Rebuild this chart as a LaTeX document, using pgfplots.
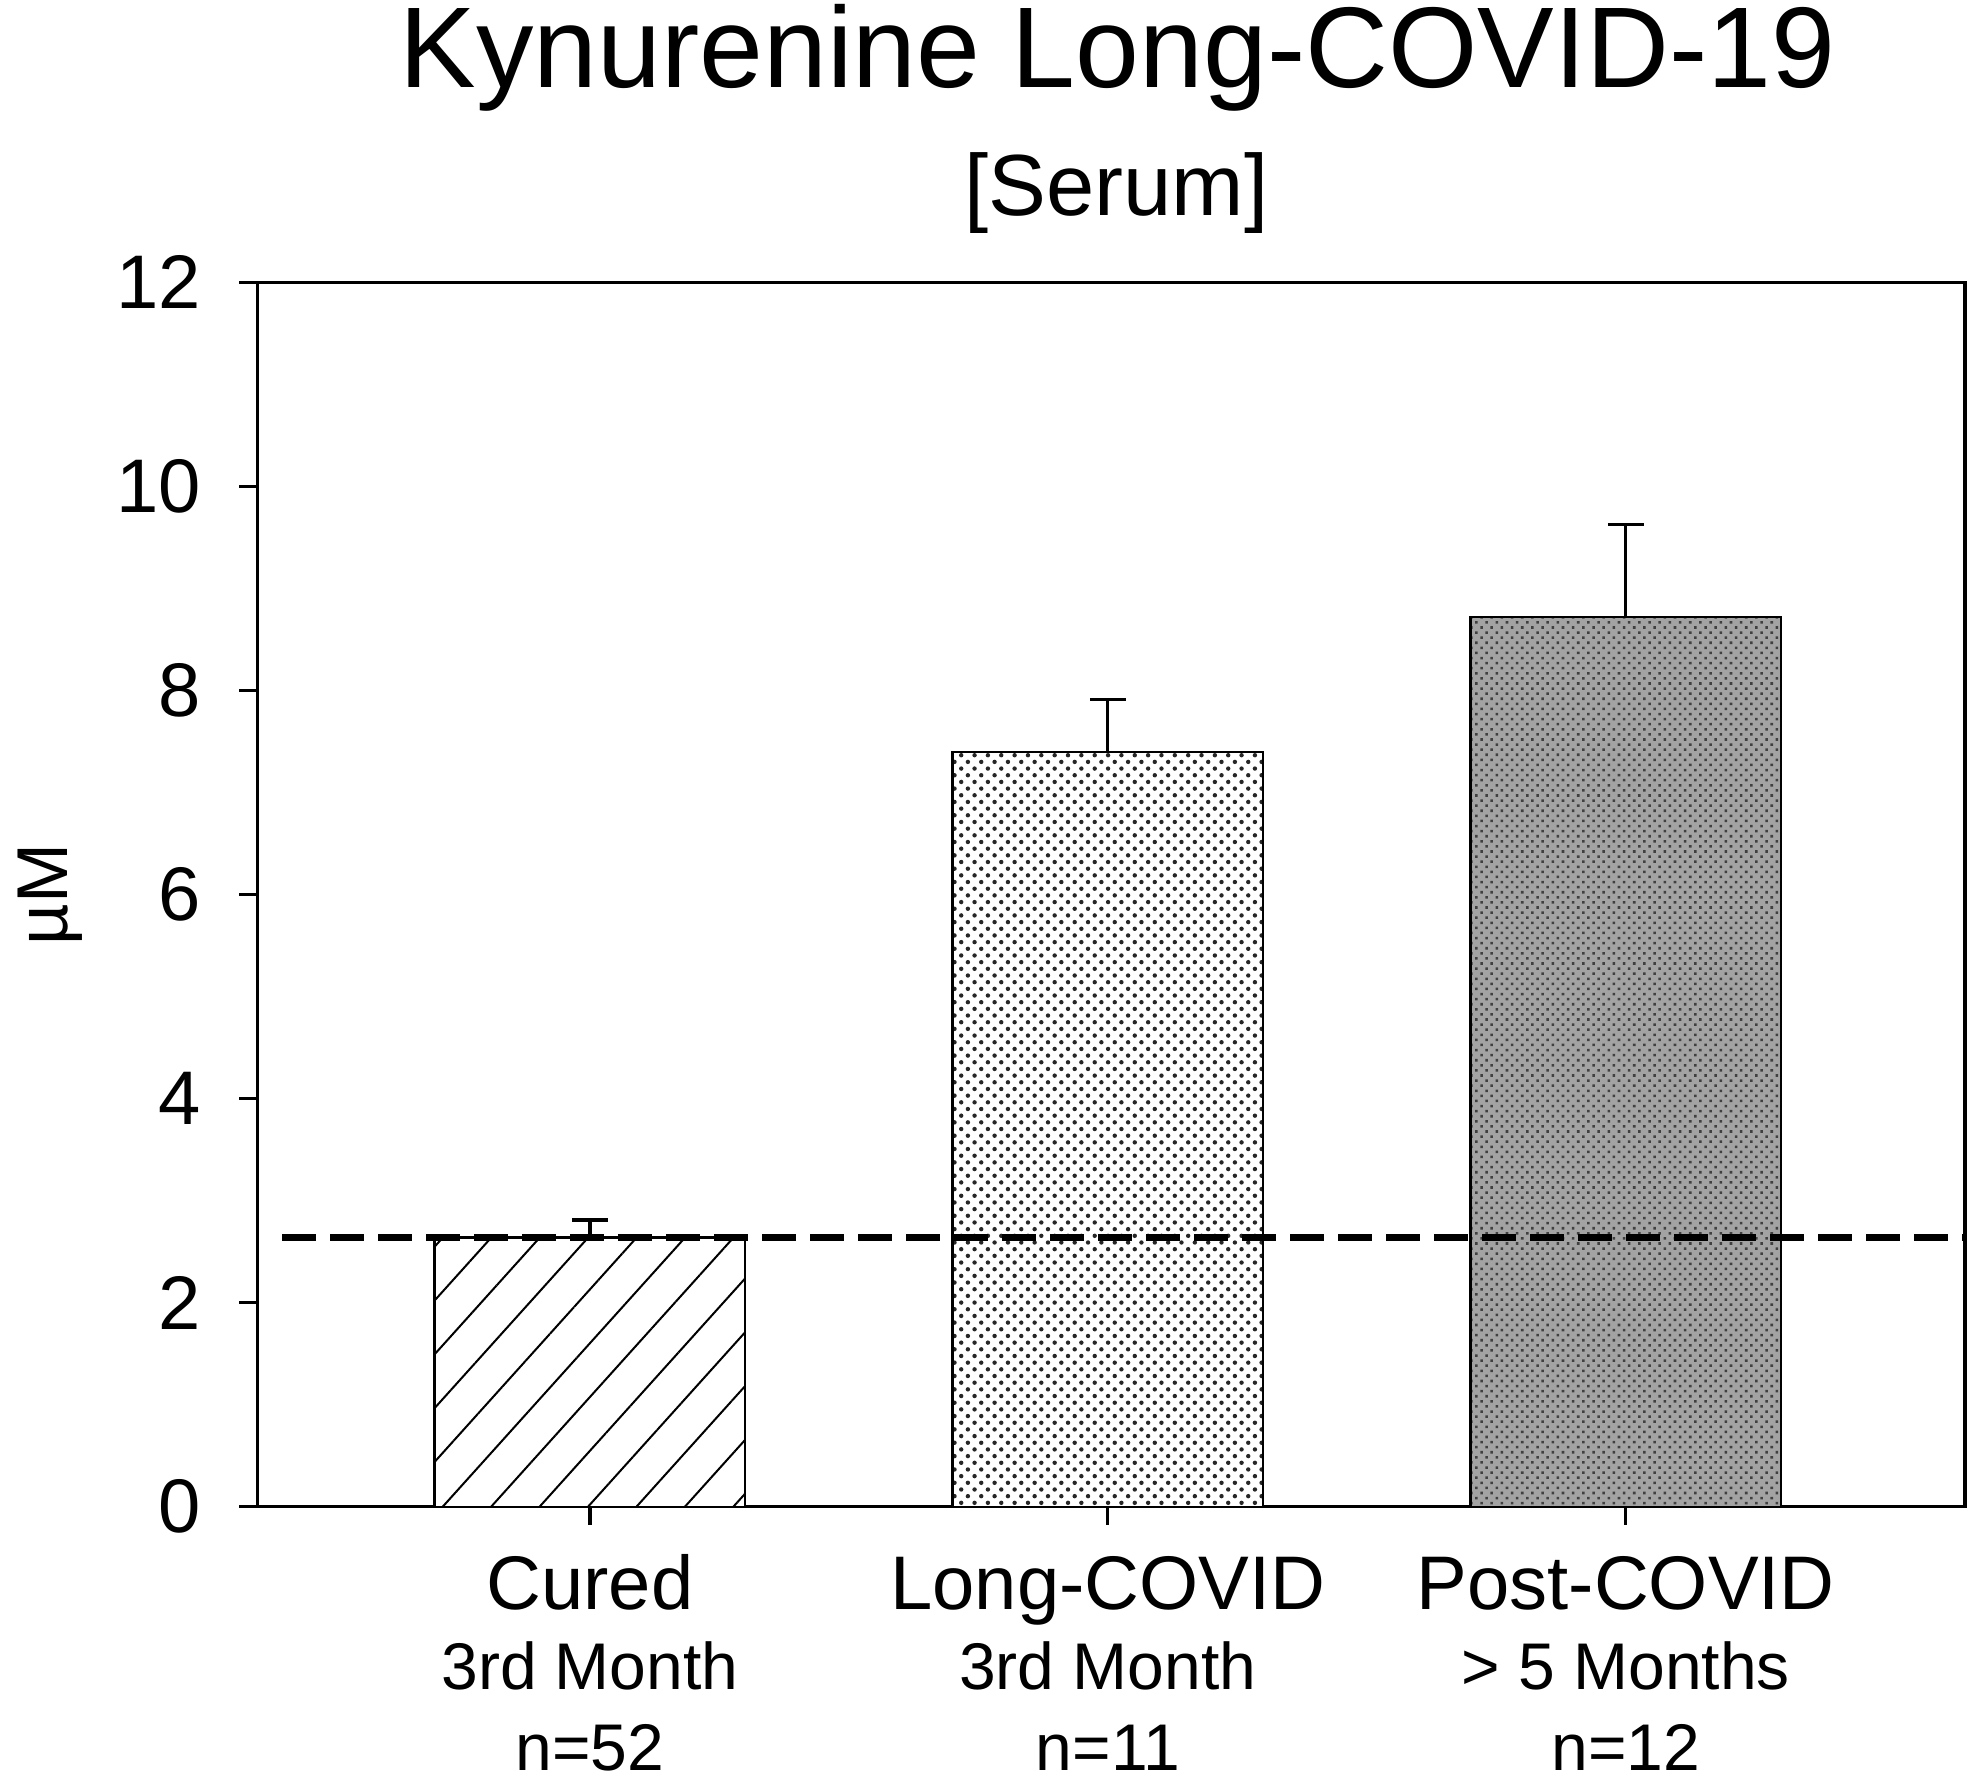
\documentclass[border=0pt]{standalone}
\usepackage{fontspec}
\setmainfont{Liberation Sans}
\usepackage{pgfplots}
\pgfplotsset{compat=1.18}
\usetikzlibrary{patterns.meta}

\begin{document}
\begin{tikzpicture}
\path[use as bounding box] (-64.35pt,-69.1pt) rectangle (427.9pt,376.7pt);
\begin{axis}[
  at={(0,0)}, anchor=south west,
  scale only axis, width=426.9pt, height=306.1pt,
  xmin=-0.642, xmax=2.655, ymin=0, ymax=12,
  ytick={0,2,4,6,8,10,12},
  xtick={0,1,2},
  xticklabels={
    {{\fontsize{19}{20.2}\selectfont Cured}\\3rd Month\\n=52},
    {{\fontsize{19}{20.2}\selectfont Long-COVID}\\3rd Month\\n=11},
    {{\fontsize{19}{20.2}\selectfont Post-COVID}\\> 5 Months\\n=12}},
  tick align=outside,
  xtick pos=bottom, ytick pos=left,
  major tick length=4.5pt,
  axis line style={line width=0.8pt},
  every tick/.style={black, line width=0.8pt},
  /pgf/number format/assume math mode=true,
  yticklabel style={font=\fontsize{19}{22}\selectfont, anchor=east, inner sep=0pt, xshift=-9.5pt},
  xticklabel style={font=\fontsize{16.5}{20.2}\selectfont, align=center, anchor=base, inner sep=0pt, yshift=-61.5pt},
  ylabel={µM},
  every axis y label/.style={at={(rel axis cs:0,0.5)}, xshift=-51.8pt, rotate=90, anchor=center, font=\fontsize{18}{20}\selectfont},
  ybar, bar width=0.6, bar shift=0pt,
  clip=false,
  error bars/error bar style={line width=0.8pt, black},
  error bars/error mark options={rotate=90, black, line width=0.8pt, mark size=4.5pt},
]
\addplot[draw=black, line width=0.6pt, fill=white,
  postaction={pattern={Lines[angle=48,distance=9pt,line width=0.5pt]}, pattern color=black},
  error bars/.cd, y dir=plus, y explicit]
  coordinates {(0,2.64) +- (0,0.17)};
\addplot[draw=black, line width=0.6pt, fill=white,
  postaction={pattern={Dots[angle=45,distance=2.36pt,radius=0.55pt]}, pattern color=black!85},
  error bars/.cd, y dir=plus, y explicit]
  coordinates {(1,7.40) +- (0,0.51)};
\addplot[draw=black, line width=0.6pt, fill=black!36,
  postaction={pattern={Dots[angle=45,distance=1.8pt,radius=0.45pt]}, pattern color=black!75},
  error bars/.cd, y dir=plus, y explicit]
  coordinates {(2,8.72) +- (0,0.91)};
\addplot[sharp plot, no markers, black, line width=1.6pt, dash pattern=on 8.5pt off 3.5pt]
  coordinates {(-0.594,2.64) (2.655,2.64)};
\end{axis}
\node[font=\fontsize{28.7}{34}\selectfont, anchor=base] at (215pt,354.7pt) {Kynurenine Long-COVID-19};
\node[font=\fontsize{21.7}{26}\selectfont, anchor=base] at (214.7pt,322.7pt) {[Serum]};
\end{tikzpicture}
\end{document}
